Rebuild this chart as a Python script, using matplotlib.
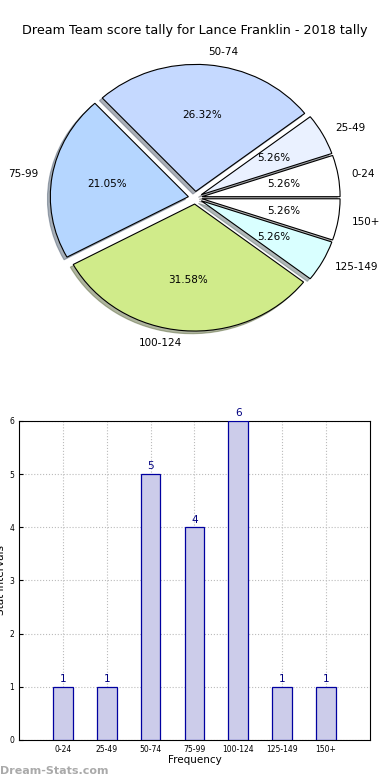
import matplotlib
matplotlib.use("Agg")
import matplotlib.pyplot as plt

labels = ["0-24", "25-49", "50-74", "75-99", "100-124", "125-149", "150+"]
counts = [1, 1, 5, 4, 6, 1, 1]
colors = ["#ffffff", "#eaf1ff", "#c5d9ff", "#b5d6ff", "#d0eb8a", "#d9ffff", "#ffffff"]
explode = [0.05] * 7

fig = plt.figure(figsize=(3.9, 7.8), dpi=100)

# pie on top (stretched, not circular)
ax1 = fig.add_axes([0.058, 0.543, 0.885, 0.407])
wedges, texts, autotexts = ax1.pie(counts, labels=labels, colors=colors, explode=explode,
                                   autopct="%1.2f%%", startangle=0,
                                   shadow={"ox": -0.015, "oy": -0.015, "shade": 0.55},
                                   wedgeprops={"edgecolor": "black", "linewidth": 0.8},
                                   textprops={"fontsize": 7.5})
ax1.set_aspect("auto")
ax1.set_xlim(-1.25, 1.25)
ax1.set_ylim(-1.25, 1.25)
fig.text(0.5, 0.961, "Dream Team score tally for Lance Franklin - 2018 tally",
         ha="center", va="center", fontsize=9.2)

# bar chart below
ax2 = fig.add_axes([0.0487, 0.0513, 0.9, 0.4090])
pos = list(range(1, len(labels) + 1))
bars = ax2.bar(pos, counts, width=0.45, color="#ccccea", edgecolor="#0000a0",
               linewidth=0.9, zorder=3)
for p, c in zip(pos, counts):
    ax2.text(p, c + 0.05, str(c), ha="center", va="bottom", fontsize=7.5, color="#000080")
ax2.set_xlim(0, 8)
ax2.set_ylim(0, 6)
ax2.set_xticks(pos)
ax2.set_xticklabels(labels, fontsize=5.5)
ax2.set_yticks(range(0, 7))
ax2.tick_params(axis="y", labelsize=5.5, direction="in", length=3)
ax2.tick_params(axis="x", direction="in", length=3)
ax2.grid(True, linestyle=":", color="#bbbbbb", linewidth=0.8, zorder=0)
ax2.set_xlabel("Frequency", fontsize=7.5, labelpad=1)
ax2.set_ylabel("Stat Intervals", fontsize=7.5, labelpad=2)

fig.text(0.0, 0.005, "Dream-Stats.com", fontsize=8, color="#aaaaaa",
         fontweight="bold", ha="left", va="bottom")

fig.savefig("out.png", dpi=100)
